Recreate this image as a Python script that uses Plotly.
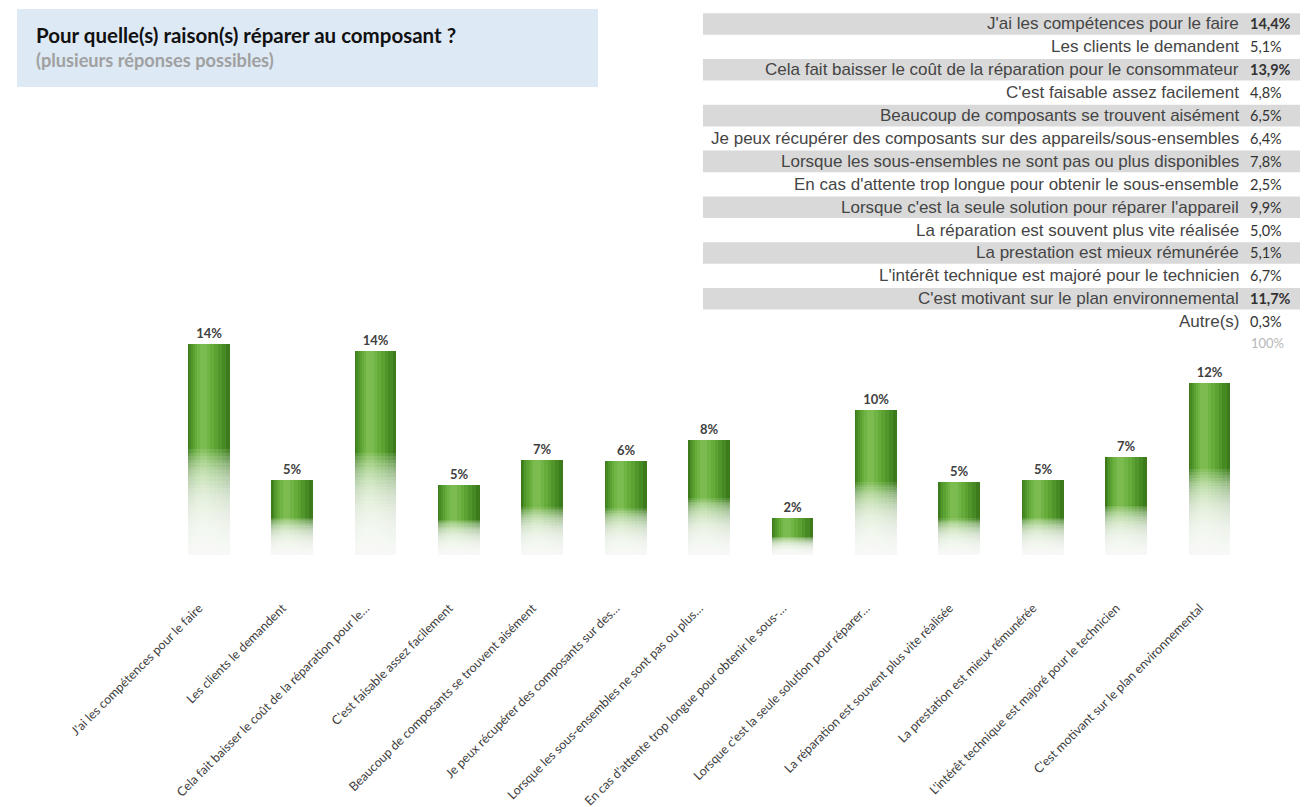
import plotly.graph_objects as go

# ---------------- data ----------------
categories = [
    "J'ai les compétences pour le faire",
    "Les clients le demandent",
    "Cela fait baisser le coût de la réparation pour le…",
    "C'est faisable assez facilement",
    "Beaucoup de composants se trouvent aisément",
    "Je peux récupérer des composants sur des…",
    "Lorsque les sous-ensembles ne sont pas ou plus…",
    "En cas d'attente trop longue pour obtenir le sous-…",
    "Lorsque c'est la seule solution pour réparer…",
    "La réparation est souvent plus vite réalisée",
    "La prestation est mieux rémunérée",
    "L'intérêt technique est majoré pour le technicien",
    "C'est motivant sur le plan environnemental",
]
values = [14.4, 5.1, 13.9, 4.8, 6.5, 6.4, 7.8, 2.5, 9.9, 5.0, 5.1, 6.7, 11.7]
bar_labels = ["14%", "5%", "14%", "5%", "7%", "6%", "8%", "2%", "10%", "5%", "5%", "7%", "12%"]

table_labels = [
    "J'ai les compétences pour le faire",
    "Les clients le demandent",
    "Cela fait baisser le coût de la réparation pour le consommateur",
    "C'est faisable assez facilement",
    "Beaucoup de composants se trouvent aisément",
    "Je peux récupérer des composants sur des appareils/sous-ensembles",
    "Lorsque les sous-ensembles ne sont pas ou plus disponibles",
    "En cas d'attente trop longue pour obtenir le sous-ensemble",
    "Lorsque c'est la seule solution pour réparer l'appareil",
    "La réparation est souvent plus vite réalisée",
    "La prestation est mieux rémunérée",
    "L'intérêt technique est majoré pour le technicien",
    "C'est motivant sur le plan environnemental",
    "Autre(s)",
]
table_values = [14.4, 5.1, 13.9, 4.8, 6.5, 6.4, 7.8, 2.5, 9.9, 5.0, 5.1, 6.7, 11.7, 0.3]
table_total = "100%"

title_text = "Pour quelle(s) raison(s) réparer au composant ?"
subtitle_text = "(plusieurs réponses possibles)"

# ---------------- geometry helpers (pixels -> paper) ----------------
W, H = 1311, 807
def px(x):
    return x / W
def py(y):
    return 1 - y / H

x_idx = list(range(len(categories)))

fig = go.Figure()

BAR_W = 0.5
# cylinder body: layered stripes from dark edge to light highlight (left of centre)
stripes = [
    (0.50, -0.25, "#3c7a1c"),
    (0.44, -0.235, "#468a23"),
    (0.37, -0.215, "#51962a"),
    (0.30, -0.19, "#5ba232"),
    (0.23, -0.165, "#66ac3b"),
    (0.16, -0.14, "#70b445"),
    (0.09, -0.11, "#7bbb50"),
]
for i, (w, off, col) in enumerate(stripes):
    kw = {}
    if i == 0:
        kw = dict(text=bar_labels, textposition="outside", cliponaxis=False,
                  textfont=dict(family="Lato", size=13, color="#404040"),
                  texttemplate="<b>%{text}</b>")
    fig.add_trace(go.Bar(x=x_idx, y=values, width=w, offset=off,
                         marker=dict(color=col, line_width=0),
                         hoverinfo="skip", showlegend=False, **kw))

# white fade at the bottom of every bar
N = 30
for k in range(N):
    frac = 0.5 * (1 - k / N)
    fig.add_trace(go.Bar(x=x_idx, y=[v * frac for v in values], width=BAR_W + 0.02, offset=-0.26,
                         marker=dict(color="rgba(255,255,255,0.115)", line_width=0),
                         hoverinfo="skip", showlegend=False))

# ---------------- layout ----------------
x_left, x_right = 167.3, 1251.5
y_top, y_zero = 320.0, 555.0

fig.update_layout(
    width=W, height=H,
    margin=dict(l=0, r=0, t=0, b=0),
    paper_bgcolor="white", plot_bgcolor="white",
    barmode="overlay",
    bargap=0,
    xaxis=dict(domain=[px(x_left), px(x_right)], range=[-0.5, len(categories) - 0.5],
               tickmode="array", tickvals=[i - 0.12 for i in x_idx], ticktext=categories,
               tickangle=-45, ticks="outside", ticklen=40, tickcolor="rgba(0,0,0,0)",
               tickfont=dict(family="Lato", size=12.5, color="#404040"),
               showgrid=False, zeroline=False, showline=False, automargin=False),
    yaxis=dict(domain=[py(y_zero), py(y_top)], range=[0, 16],
               visible=False, showgrid=False, zeroline=False, automargin=False),
    font=dict(family="Lato"),
)

shapes = []
annotations = []

# title box
shapes.append(dict(type="rect", xref="paper", yref="paper",
                   x0=px(17), x1=px(598), y0=py(87), y1=py(9),
                   fillcolor="#dde9f5", line_width=0, layer="below"))
annotations.append(dict(xref="paper", yref="paper", x=px(34), y=py(35), xanchor="left", yanchor="middle",
                        text="<b>" + title_text + "</b>", showarrow=False,
                        font=dict(family="Lato", size=20.5, color="#111111")))
annotations.append(dict(xref="paper", yref="paper", x=px(34), y=py(60), xanchor="left", yanchor="middle",
                        text="<b>" + subtitle_text + "</b>", showarrow=False,
                        font=dict(family="Lato", size=18.2, color="#a0a0a0")))

# table
row0, row_h = 24.0, 22.9
for i, (lab, val) in enumerate(zip(table_labels, table_values)):
    yc = row0 + i * row_h
    if i % 2 == 0 and i < 13:
        shapes.append(dict(type="rect", xref="paper", yref="paper",
                           x0=px(703), x1=px(1300), y0=py(yc + 10.8), y1=py(yc - 10.8),
                           fillcolor="#d9d9d9", line_width=0, layer="below"))
    annotations.append(dict(xref="paper", yref="paper", x=px(1241), y=py(yc), xanchor="right", yanchor="middle",
                            text=lab, showarrow=False,
                            font=dict(family="Liberation Sans", size=17, color="#454545")))
    vt = f"{val:.1f}%".replace(".", ",")
    if val >= 10:
        vt = "<b>" + vt + "</b>"
    annotations.append(dict(xref="paper", yref="paper", x=px(1248), y=py(yc), xanchor="left", yanchor="middle",
                            text=vt, showarrow=False,
                            font=dict(family="Lato", size=14.5, color="#333333")))
annotations.append(dict(xref="paper", yref="paper", x=px(1249), y=py(row0 + 14 * row_h - 2), xanchor="left",
                        yanchor="middle", text=table_total, showarrow=False,
                        font=dict(family="Lato", size=13, color="#b8b8b8")))

fig.update_layout(shapes=shapes, annotations=annotations)

fig.write_html("out.html", config={"displayModeBar": False},
               post_script="document.body.style.margin='0';")
